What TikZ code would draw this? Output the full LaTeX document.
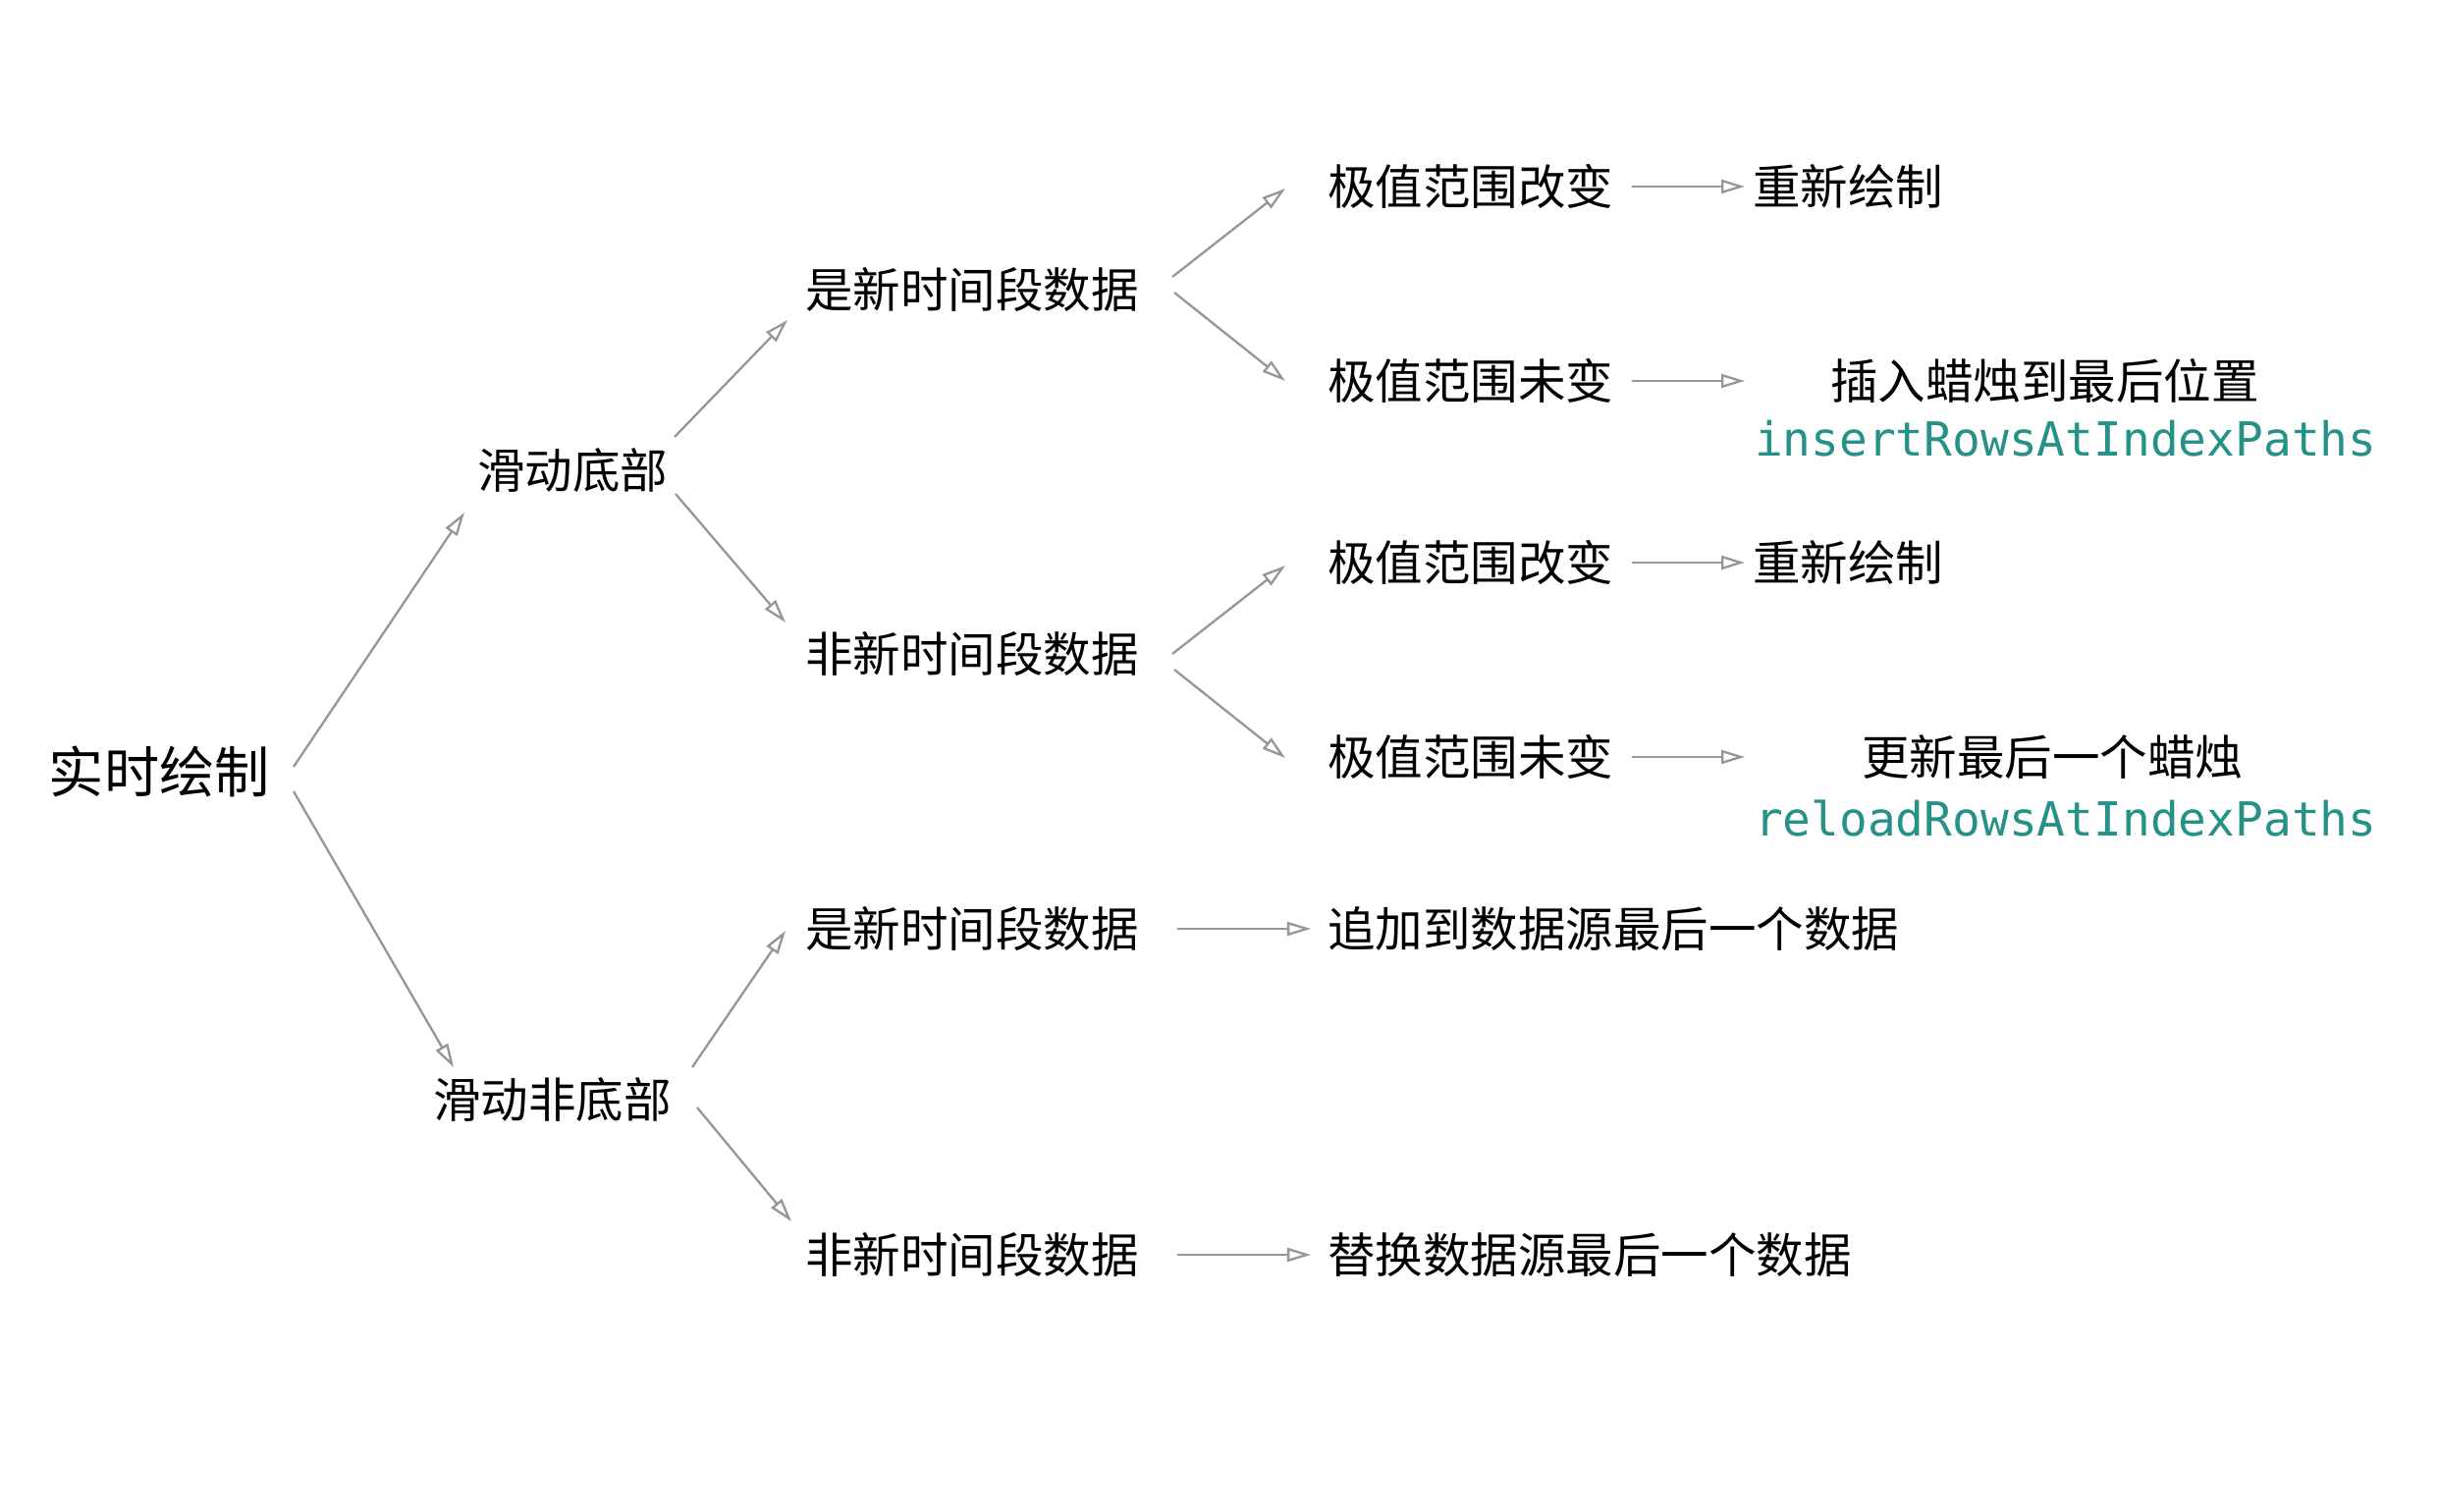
\documentclass[tikz,border=0pt]{standalone}
\usepackage{fontspec}
\setmainfont{Noto Sans CJK SC}
\setmonofont{DejaVu Sans Mono}
\usetikzlibrary{arrows.meta,calc}
\definecolor{codeteal}{RGB}{38,146,135}
\definecolor{arrgray}{RGB}{150,150,150}
\begin{document}
\begin{tikzpicture}[x=0.01cm,y=-0.01cm,
  lbl/.style={anchor=west,inner sep=0pt,outer sep=0pt,font=\fontsize{13.8pt}{16pt}\selectfont},
  mainlbl/.style={anchor=west,inner sep=0pt,outer sep=0pt,font=\fontsize{16pt}{19pt}\selectfont},
  codelbl/.style={anchor=base west,inner sep=0pt,outer sep=0pt,text=codeteal,font=\ttfamily\fontsize{13.6pt}{16pt}\selectfont},
  arr/.style={draw=arrgray,line width=0.65pt,-{Triangle[open,length=2.4mm,width=1.4mm]}}]
\useasboundingbox (0,0) rectangle (2484,1540);
\fill[white] (0,0) rectangle (2484,1540);
% nodes
\node[mainlbl] (A) at (50,786) {实时绘制};
\node[lbl] (B1) at (486,479) {滑动底部};
\node[lbl] (B2) at (441,1120) {滑动非底部};
\node[lbl] (C1) at (820,295) {是新时间段数据};
\node[lbl] (C2) at (820,666) {非新时间段数据};
\node[lbl] (C3) at (820,946) {是新时间段数据};
\node[lbl] (C4) at (820,1278) {非新时间段数据};
\node[lbl] (D1) at (1352,190) {极值范围改变};
\node[lbl] (D2) at (1352,388) {极值范围未变};
\node[lbl] (D3) at (1352,573) {极值范围改变};
\node[lbl] (D4) at (1352,771) {极值范围未变};
\node[lbl] (E1) at (1785,190) {重新绘制};
\node[lbl] (E2) at (1864,388) {插入蜡烛到最后位置};
\node[codelbl] (E2c) at (1787,465) {insertRowsAtIndexPaths};
\node[lbl] (E3) at (1785,573) {重新绘制};
\node[lbl] (E4) at (1896,771) {更新最后一个蜡烛};
\node[codelbl] (E4c) at (1787,852) {reloadRowsAtIndexPaths};
\node[lbl] (F3) at (1352,946) {追加到数据源最后一个数据};
\node[lbl] (F4) at (1352,1278) {替换数据源最后一个数据};
% connectors
\draw[arr] ($(A.west)+(249,-5)$) -- ($(B1.west)+(-13,43)$);
\draw[arr] ($(A.west)+(249,20)$) -- ($(B2.west)+(21,-33)$);
\draw[arr] ($(B1.west)+(201,-34)$) -- ($(C1.west)+(-18,31)$);
\draw[arr] ($(B1.west)+(202,24)$) -- ($(C2.west)+(-20,-32)$);
\draw[arr] ($(B2.west)+(264,-33)$) -- ($(C3.west)+(-20,2)$);
\draw[arr] ($(B2.west)+(269,8)$) -- ($(C4.west)+(-14,-34)$);
\draw[arr] ($(C1.west)+(374,-13)$) -- ($(D1.west)+(-43,2)$);
\draw[arr] ($(C1.west)+(376,3)$) -- ($(D2.west)+(-43,0)$);
\draw[arr] ($(C2.west)+(374,0)$) -- ($(D3.west)+(-43,3)$);
\draw[arr] ($(C2.west)+(376,16)$) -- ($(D4.west)+(-43,1)$);
\draw[arr] ($(D1.west)+(310,0)$) -- ($(E1.west)+(-8,0)$);
\draw[arr] ($(D2.west)+(310,0)$) -- ($(E2.west)+(-87,0)$);
\draw[arr] ($(D3.west)+(310,0)$) -- ($(E3.west)+(-8,0)$);
\draw[arr] ($(D4.west)+(310,0)$) -- ($(E4.west)+(-119,0)$);
\draw[arr] ($(C3.west)+(379,0)$) -- ($(F3.west)+(-17,0)$);
\draw[arr] ($(C4.west)+(379,0)$) -- ($(F4.west)+(-17,0)$);
\end{tikzpicture}
\end{document}
